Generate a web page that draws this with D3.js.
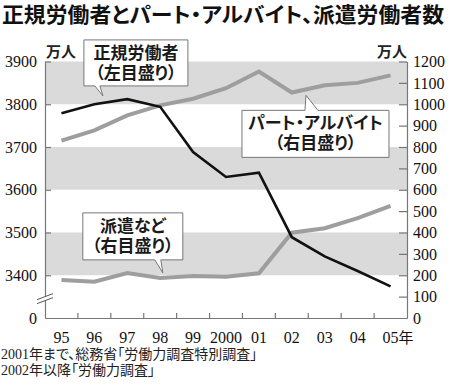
<!DOCTYPE html>
<html>
<meta charset="utf-8">
<head>
<title>正規労働者とパート・アルバイト、派遣労働者数</title>
<style>
body { margin: 0; background: #fff; }
text { font-feature-settings: "palt"; }
.line { fill: none; }
.num { font-family: "Liberation Serif", serif; }
.note { font-family: "Liberation Serif", "Noto Sans CJK JP", serif; }
</style>
</head>
<body>
<script src="https://d3js.org/d3.v7.min.js"></script>
<script>

// data (万人)
var years = ["95","96","97","98","99","2000","01","02","03","04","05"];
var regular = [3779, 3800, 3812, 3794, 3688, 3630, 3640, 3489, 3444, 3410, 3374];   // 左目盛り
var partTime = [830, 878, 948, 995, 1026, 1075, 1153, 1055, 1089, 1100, 1135];      // 右目盛り
var dispatch = [178, 170, 210, 187, 196, 193, 209, 399, 420, 467, 524];            // 右目盛り
var leftTicks = [3300, 3400, 3500, 3600, 3700, 3800, 3900];   // 3300 slot is shown as "0" (axis break)
var rightTicks = d3.range(0, 1201, 100);
var bands = [[3800, 3900], [3600, 3700], [3400, 3500]];
var notes = ["2001年まで、総務省「労働力調査特別調査」", "2002年以降「労働力調査」"];

var sans = "'Noto Sans CJK JP', sans-serif";

var width = 450, height = 387;
var margin = {top: 61.5, right: 43, bottom: 69, left: 45};
var plotW = width - margin.left - margin.right;
var plotH = height - margin.top - margin.bottom;

var svg = d3.select("body").append("svg")
    .attr("width", width)
    .attr("height", height);

var x = d3.scaleBand().domain(years).range([0, plotW]).padding(0);
var yL = d3.scaleLinear().domain([3300, 3900]).range([plotH, 0]);
var yR = d3.scaleLinear().domain([0, 1200]).range([plotH, 0]);
var cx = function(i) { return x(years[i]) + x.bandwidth() / 2; };

// title
svg.append("text")
    .attr("x", 2).attr("y", 22)
    .attr("textLength", 442).attr("lengthAdjust", "spacingAndGlyphs")
    .style("font-family", sans)
    .style("font-weight", "bold").style("font-size", "21px")
    .style("fill", "#111")
    .text("正規労働者とパート・アルバイト、派遣労働者数");

var g = svg.append("g").attr("transform", "translate(" + margin.left + "," + margin.top + ")");

// background bands
g.selectAll(".band").data(bands).enter().append("rect")
    .attr("x", 0).attr("width", plotW)
    .attr("y", function(d) { return yL(d[1]); })
    .attr("height", function(d) { return yL(d[0]) - yL(d[1]); })
    .attr("fill", "#dadada");

// lines
var lineL = d3.line().x(function(d, i) { return cx(i); }).y(function(d) { return yL(d); });
var lineR = d3.line().x(function(d, i) { return cx(i); }).y(function(d) { return yR(d); });

g.append("path").datum(dispatch).attr("class", "line")
    .attr("d", lineR).attr("stroke", "#9e9e9e").attr("stroke-width", 4);
g.append("path").datum(partTime).attr("class", "line")
    .attr("d", lineR).attr("stroke", "#9e9e9e").attr("stroke-width", 4);
g.append("path").datum(regular).attr("class", "line")
    .attr("d", lineL).attr("stroke", "#111").attr("stroke-width", 2.6);

// axes
var axL = g.append("g")
    .call(d3.axisLeft(yL).tickValues(leftTicks)
        .tickFormat(function(d) { return d === 3300 ? "0" : String(d); })
        .tickSizeInner(-6).tickSizeOuter(0).tickPadding(8));
var axR = g.append("g").attr("transform", "translate(" + plotW + ",0)")
    .call(d3.axisRight(yR).tickValues(rightTicks).tickFormat(d3.format("d"))
        .tickSizeInner(-8).tickSizeOuter(0).tickPadding(6));
var axB = g.append("g").attr("transform", "translate(0," + plotH + ")")
    .call(d3.axisBottom(x).tickSize(0).tickPadding(14));

[axL, axR, axB].forEach(function(a) {
  a.attr("font-family", null).attr("font-size", null);
  a.selectAll("path, line").attr("stroke", "#777").attr("stroke-width", 1.2);
  a.selectAll("text").attr("class", "num")
      .style("font-size", "16px").style("fill", "#111");
});
axL.selectAll(".tick").filter(function(d) { return d === 3300; }).select("line").remove();
axR.selectAll(".tick").filter(function(d) { return d === 0; }).select("line").remove();

// last x label gets 年
var last = axB.selectAll(".tick text").filter(function(d) { return d === "05"; })
    .attr("text-anchor", "start").attr("x", -8);
last.append("tspan").style("font-family", sans).style("font-size", "15px").text("年");

// x ticks on band boundaries
g.selectAll(".xb").data(years.slice(1)).enter().append("line")
    .attr("x1", function(d) { return x(d); }).attr("x2", function(d) { return x(d); })
    .attr("y1", plotH).attr("y2", plotH - 5)
    .attr("stroke", "#777").attr("stroke-width", 1.2);

// axis break on the left axis
var by = yL(3350) - 1;
g.append("path").attr("d", "M-8," + (by + 4) + "L8," + (by - 2) + "L8," + (by + 2) + "L-8," + (by + 8) + "Z")
    .attr("fill", "#fff");
g.append("path").attr("d", "M-8," + (by + 4) + "L8," + (by - 2) + "M-8," + (by + 8) + "L8," + (by + 2))
    .attr("stroke", "#555").attr("stroke-width", 1);

// units
svg.selectAll(".unit").data([[46, "start"], [407, "end"]]).enter().append("text")
    .attr("x", function(d) { return d[0]; }).attr("y", 57)
    .attr("text-anchor", function(d) { return d[1]; })
    .style("font-family", sans)
    .style("font-size", "15px").style("font-weight", "bold").style("fill", "#222")
    .text("万人");

// callouts: anchor on a series at a fractional index, box offsets relative to the tip
var callouts = [
  {lines: ["正規労働者", "（左目盛り）"], data: regular, y: yL, at: 1.26, dy: -7,
   box: [-19, -56, 104, 46], tail: [-8, -3], side: "bottom"},
  {lines: ["パート・アルバイト", "（右目盛り）"], data: partTime, y: yR, at: 7.43, dy: 6,
   box: [-64, 15, 147, 47], tail: [-1, 12], side: "top"},
  {lines: ["派遣など", "（右目盛り）"], data: dispatch, y: yR, at: 3.08, dy: -5,
   box: [-80, -60, 100, 47], tail: [-8, -2], side: "bottom"}
];

callouts.forEach(function(c) {
  var i0 = Math.floor(c.at), f = c.at - i0;
  var v = c.data[i0] + f * (c.data[i0 + 1] - c.data[i0]);
  var tx = cx(i0) + f * x.bandwidth(), ty = c.y(v) + c.dy;
  var bx = tx + c.box[0], byy = ty + c.box[1], bw = c.box[2], bh = c.box[3];
  var t0 = tx + c.tail[0], t1 = tx + c.tail[1];
  var p = d3.path();
  if (c.side === "bottom") {
    p.moveTo(bx, byy); p.lineTo(bx + bw, byy); p.lineTo(bx + bw, byy + bh);
    p.lineTo(t1, byy + bh); p.lineTo(tx, ty); p.lineTo(t0, byy + bh);
    p.lineTo(bx, byy + bh); p.closePath();
  } else {
    p.moveTo(bx, byy); p.lineTo(t0, byy); p.lineTo(tx, ty); p.lineTo(t1, byy);
    p.lineTo(bx + bw, byy); p.lineTo(bx + bw, byy + bh); p.lineTo(bx, byy + bh); p.closePath();
  }
  g.append("path").attr("d", p.toString())
      .attr("fill", "#fff").attr("stroke", "#777").attr("stroke-width", 1);
  c.lines.forEach(function(line, k) {
    g.append("text")
        .attr("x", bx + bw / 2).attr("y", byy + 19 + k * 20)
        .attr("text-anchor", "middle")
        .style("font-family", sans)
        .style("font-size", "17px").style("font-weight", "bold").style("fill", "#1a1a1a")
        .text(line);
  });
});

// source notes
svg.selectAll(".note").data(notes).enter().append("text")
    .attr("class", "note")
    .attr("x", 1).attr("y", function(d, i) { return 359 + i * 16; })
    .style("font-size", "14px").style("fill", "#222")
    .text(function(d) { return d; });

</script>
</body>
</html>
